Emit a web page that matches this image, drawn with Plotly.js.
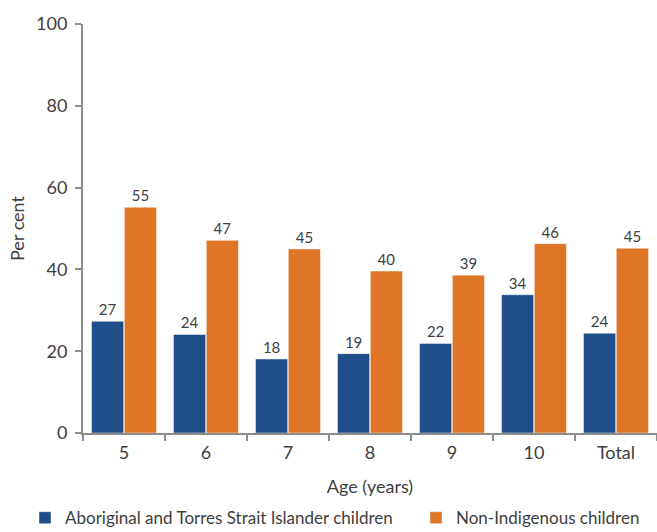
<!DOCTYPE html>
<html>
<head>
<meta charset="utf-8">
<script src="https://cdn.plot.ly/plotly-3.0.1.min.js"></script>
<style>html,body{margin:0;padding:0;background:#fff;}#chart{width:657px;height:532px;}</style>
</head>
<body>
<div id="chart"></div>
<script>
const categories = ["5", "6", "7", "8", "9", "10", "Total"];
const indigenous = [27.3, 24.1, 18.1, 19.4, 21.9, 33.8, 24.4];
const nonIndigenous = [55.2, 47.1, 45.0, 39.6, 38.6, 46.3, 45.2];
const seriesNames = ["Aboriginal and Torres Strait Islander children", "Non-Indigenous children"];

const fontFam = "Lato, 'Open Sans', sans-serif";
const textCol = "#404040";

function barTrace(name, vals, color, legendId) {
  return {
    type: "bar",
    name: name,
    legend: legendId,
    x: categories,
    y: vals,
    text: vals.map(v => String(Math.round(v))),
    textposition: "outside",
    textfont: {family: fontFam, size: 15, color: textCol},
    cliponaxis: false,
    marker: {color: color, line: {color: "rgba(255,255,255,0.45)", width: 1}},
    hoverinfo: "none"
  };
}

const data = [
  barTrace(seriesNames[0], indigenous, "#1f4e88", "legend"),
  barTrace(seriesNames[1], nonIndigenous, "#de7527", "legend2")
];

const legendBase = {
  orientation: "h", xanchor: "left",
  yref: "container", y: 0.026, yanchor: "middle",
  xref: "container",
  font: {family: fontFam, size: 17, color: textCol},
  itemwidth: 30, bgcolor: "rgba(0,0,0,0)"
};

const layout = {
  width: 657, height: 532,
  margin: {l: 83, r: 0, t: 24, b: 99, autoexpand: false},
  paper_bgcolor: "#fff", plot_bgcolor: "#fff",
  font: {family: fontFam, color: textCol, size: 17},
  barmode: "group",
  bargap: 0.2,
  bargroupgap: 0.02,
  showlegend: true,
  legend: Object.assign({}, legendBase, {x: 25 / 657}),
  legend2: Object.assign({}, legendBase, {x: 416 / 657}),
  xaxis: {
    type: "category",
    showline: true, linecolor: "#8c8c8c", linewidth: 2,
    ticks: "outside", tickson: "boundaries", ticklen: 6, tickcolor: "#8c8c8c", tickwidth: 2,
    tickfont: {family: fontFam, size: 18, color: textCol},
    ticklabelstandoff: 2,
    showgrid: false, zeroline: false, automargin: false,
    title: {text: "Age (years)", font: {family: fontFam, size: 18, color: textCol}, standoff: 19}
  },
  yaxis: {
    range: [0, 100], dtick: 20, tick0: 0,
    showline: true, linecolor: "#8c8c8c", linewidth: 2,
    ticks: "outside", ticklen: 6, tickcolor: "#8c8c8c", tickwidth: 2,
    tickfont: {family: fontFam, size: 18, color: textCol},
    ticklabelstandoff: 4,
    showgrid: false, zeroline: false, automargin: false,
    title: {text: "Per cent", font: {family: fontFam, size: 18, color: textCol}, standoff: 7}
  }
};

Plotly.newPlot("chart", data, layout, {displayModeBar: false, staticPlot: true});
</script>
</body>
</html>
